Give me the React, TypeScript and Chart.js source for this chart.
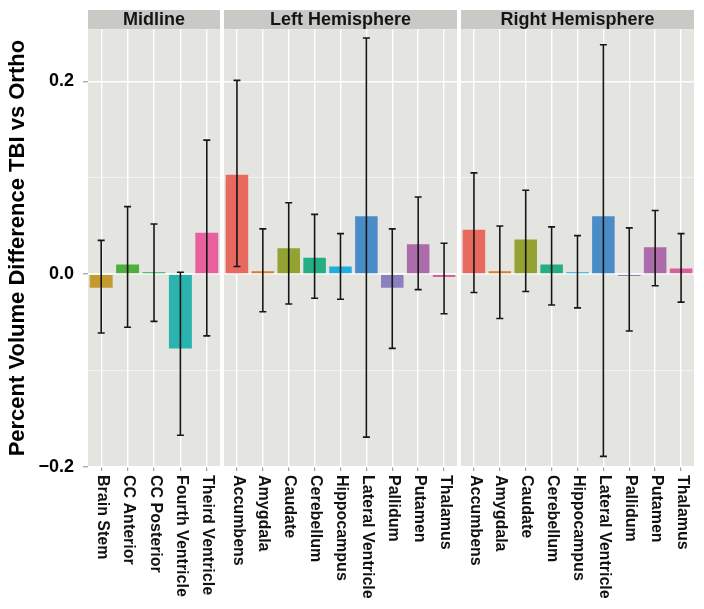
import React, { useEffect, useRef } from 'react';
import { Chart, registerables } from 'chart.js';

Chart.register(...registerables);

const FONT = '"Liberation Sans", Arial, Helvetica, sans-serif';

// ---------- data ----------
const midlineCategories = ['Brain Stem', 'CC Anterior', 'CC Posterior', 'Fourth Ventricle', 'Theird Ventricle'];
const midlineMean = [-0.014, 0.010, 0.002, -0.077, 0.043];
const midlineLow = [-0.061, -0.055, -0.049, -0.167, -0.064];
const midlineHigh = [0.035, 0.070, 0.052, 0.002, 0.139];
const midlineColors = ['#C49A2E', '#4FAF3E', '#2BB24E', '#2BB3B0', '#E8619E'];

const hemiCategories = ['Accumbens', 'Amygdala', 'Caudate', 'Cerebellum', 'Hippocampus', 'Lateral Ventricle', 'Pallidum', 'Putamen', 'Thalamus'];
const hemiColors = ['#E8695E', '#E07B26', '#94A232', '#25AD84', '#20AEDD', '#4A8CC8', '#8C7FBF', '#AC6CAA', '#D9609A'];

const leftMean = [0.103, 0.003, 0.027, 0.017, 0.008, 0.060, -0.014, 0.031, -0.003];
const leftLow = [0.008, -0.039, -0.031, -0.025, -0.026, -0.169, -0.077, -0.016, -0.041];
const leftHigh = [0.201, 0.047, 0.074, 0.062, 0.042, 0.245, 0.047, 0.080, 0.032];

const rightMean = [0.046, 0.003, 0.036, 0.010, 0.002, 0.060, -0.002, 0.028, 0.006];
const rightLow = [-0.019, -0.046, -0.018, -0.032, -0.035, -0.189, -0.059, -0.012, -0.029];
const rightHigh = [0.105, 0.050, 0.087, 0.049, 0.040, 0.238, 0.048, 0.066, 0.042];

const panelTitles = ['Midline', 'Left Hemisphere', 'Right Hemisphere'];
const yAxisTitle = 'Percent Volume Difference TBI vs Ortho';
const Y_MIN = -0.2;
const Y_MAX = 0.254;
const Y_STEP = 0.1;

// ---------- plugin: facet strip, panel background, error bars, rotated labels ----------
const facetPlugin = {
  id: 'facet',
  beforeDraw(chart: any) {
    const { ctx, chartArea } = chart;
    const w = chartArea.right - chartArea.left;
    ctx.save();
    ctx.fillStyle = '#C9C9C5';
    ctx.fillRect(chartArea.left, 10, w, chartArea.top - 10);
    ctx.fillStyle = '#E4E4E0';
    ctx.fillRect(chartArea.left, chartArea.top, w, chartArea.bottom - chartArea.top);
    ctx.restore();
  },
  afterDatasetsDraw(chart: any) {
    const { ctx } = chart;
    const ds: any = chart.data.datasets[0];
    const meta = chart.getDatasetMeta(0);
    const ys = chart.scales.y;
    ctx.save();
    ctx.strokeStyle = '#161616';
    ctx.lineWidth = 1.6;
    meta.data.forEach((el: any, i: number) => {
      const x = el.x;
      const top = ys.getPixelForValue(ds.errHigh[i]);
      const bot = ys.getPixelForValue(ds.errLow[i]);
      ctx.beginPath();
      ctx.moveTo(x, top);
      ctx.lineTo(x, bot);
      ctx.moveTo(x - 3.5, top);
      ctx.lineTo(x + 3.5, top);
      ctx.moveTo(x - 3.5, bot);
      ctx.lineTo(x + 3.5, bot);
      ctx.stroke();
    });
    ctx.restore();
  },
  afterDraw(chart: any) {
    const { ctx, chartArea } = chart;
    const xs = chart.scales.x;
    ctx.save();
    ctx.font = `bold 16px ${FONT}`;
    ctx.fillStyle = '#111111';
    ctx.textAlign = 'left';
    ctx.textBaseline = 'middle';
    (chart.data.labels as string[]).forEach((lab, i) => {
      const px = xs.getPixelForTick(i);
      ctx.save();
      ctx.translate(px + 1, chartArea.bottom + 8);
      ctx.rotate(Math.PI / 2);
      ctx.fillText(lab, 0, 0);
      ctx.restore();
    });
    ctx.restore();
  },
};

const isMajor = (v: number) => Math.round(v * 10) % 2 === 0;

function makeConfig(first: boolean, title: string, labels: string[], mean: number[], low: number[], high: number[], colors: string[]): any {
  return {
    type: 'bar',
    data: {
      labels,
      datasets: [
        {
          data: mean,
          backgroundColor: colors,
          borderWidth: 0,
          barPercentage: 0.87,
          categoryPercentage: 1,
          errLow: low,
          errHigh: high,
        },
      ],
    },
    plugins: [facetPlugin],
    options: {
      animation: false,
      responsive: false,
      devicePixelRatio: 1,
      layout: { padding: { top: 10, left: 0, right: 0, bottom: 0 } },
      plugins: {
        legend: { display: false },
        tooltip: { enabled: false },
        title: {
          display: true,
          text: title,
          fullSize: false,
          color: '#151515',
          padding: 0,
          font: { family: FONT, size: 18, weight: 'bold', lineHeight: 1.07 },
        },
      },
      scales: {
        x: {
          type: 'category',
          offset: true,
          border: { display: false },
          grid: {
            offset: false,
            color: '#FFFFFF',
            lineWidth: 1.4,
            drawTicks: true,
            tickLength: 4,
            tickColor: '#8A8A8A',
            tickWidth: 1,
          },
          ticks: { display: false },
          afterFit: (s: any) => {
            s.height = 142;
          },
        },
        y: {
          min: Y_MIN,
          max: Y_MAX,
          border: { display: false },
          grid: {
            color: (c: any) => (c.tick && isMajor(c.tick.value) ? '#FFFFFF' : 'rgba(255,255,255,0.75)'),
            lineWidth: (c: any) => (c.tick && isMajor(c.tick.value) ? 1.6 : 0.7),
            drawTicks: first,
            tickLength: 5,
            tickWidth: 1,
            tickColor: (c: any) => (c.tick && isMajor(c.tick.value) ? '#8A8A8A' : 'rgba(0,0,0,0)'),
          },
          ticks: {
            display: first,
            stepSize: Y_STEP,
            includeBounds: false,
            padding: 9,
            color: '#000000',
            font: { family: FONT, size: 18, weight: 'bold' },
            callback: (v: number) => (isMajor(v) ? (v < -1e-9 ? '\u2212' : '') + Math.abs(v).toFixed(1) : ''),
          },
          title: {
            display: first,
            text: yAxisTitle,
            color: '#000000',
            padding: { top: 5, bottom: 0 },
            font: { family: FONT, size: 22, weight: 'bold' },
          },
          afterFit: (s: any) => {
            s.width = first ? 88 : 0;
          },
        },
      },
    },
  };
}

type PanelProps = {
  first: boolean;
  left: number;
  width: number;
  title: string;
  labels: string[];
  mean: number[];
  low: number[];
  high: number[];
  colors: string[];
};

function Panel(p: PanelProps) {
  const ref = useRef<HTMLCanvasElement | null>(null);
  useEffect(() => {
    if (!ref.current) return;
    const chart = new Chart(ref.current, makeConfig(p.first, p.title, p.labels, p.mean, p.low, p.high, p.colors));
    return () => chart.destroy();
  }, []);
  return (
    <canvas
      ref={ref}
      width={p.width}
      height={609}
      style={{ position: 'absolute', left: p.left, top: 0, width: p.width, height: 609 }}
    />
  );
}

export default function App() {
  return (
    <div style={{ position: 'absolute', left: 0, top: 0, width: 704, height: 609, background: '#FFFFFF', overflow: 'hidden' }}>
      <Panel first={true} left={0} width={220} title={panelTitles[0]} labels={midlineCategories} mean={midlineMean} low={midlineLow} high={midlineHigh} colors={midlineColors} />
      <Panel first={false} left={224} width={233} title={panelTitles[1]} labels={hemiCategories} mean={leftMean} low={leftLow} high={leftHigh} colors={hemiColors} />
      <Panel first={false} left={461} width={233} title={panelTitles[2]} labels={hemiCategories} mean={rightMean} low={rightLow} high={rightHigh} colors={hemiColors} />
    </div>
  );
}
